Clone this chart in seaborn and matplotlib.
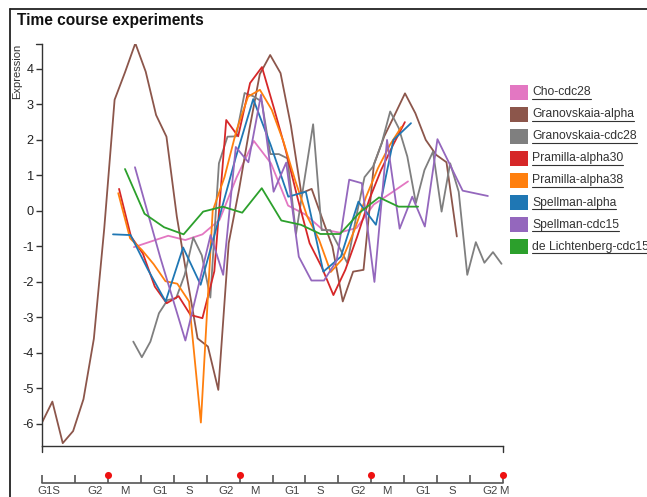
import matplotlib
matplotlib.use("Agg")
import matplotlib.pyplot as plt
from matplotlib.patches import Rectangle
from matplotlib.lines import Line2D
import numpy as np
import pandas as pd
import seaborn as sns

sns.set_theme(style="white")
plt.rcParams["font.family"] = ["Liberation Sans", "DejaVu Sans"]
plt.rcParams["axes.unicode_minus"] = False

# ---- experiments (legend order) and their colours ----
experiments = ["Cho-cdc28", "Granovskaia-alpha", "Granovskaia-cdc28", "Pramilla-alpha30",
               "Pramilla-alpha38", "Spellman-alpha", "Spellman-cdc15", "de Lichtenberg-cdc15"]
colors = ["#e377c2", "#8c564b", "#7f7f7f", "#d62728", "#ff7f0e", "#1f77b4", "#9467bd", "#2ca02c"]

# ---- sampling times (minutes) and expression per experiment ----
cho_cdc28_t = list(range(0, 161, 10))
cho_cdc28_v = [-1.02, -0.86, -0.70, -0.82, -0.66, -0.25, 0.95, 1.97, 1.34, 0.15, -0.10,
               -0.52, -0.61, -0.48, 0.18, 0.50, 0.83]

gran_alpha_t = list(range(0, 201, 5))
gran_alpha_v = [-5.96, -5.37, -6.54, -6.20, -5.30, -3.60, -0.50, 3.13, 3.90, 4.72, 3.92,
                2.70, 2.09, -0.16, -1.90, -3.59, -3.82, -5.04, -0.91, 0.60, 2.30, 3.85,
                4.39, 3.88, 2.40, 0.50, 0.62, -0.20, -1.00, -2.55, -1.71, -1.66, 1.30,
                2.10, 2.70, 3.31, 2.75, 2.00, 1.58, 1.37, -0.72]

gran_cdc28_t = list(range(0, 216, 5))
gran_cdc28_v = [-3.68, -4.12, -3.68, -2.88, -2.51, -2.46, -1.80, -0.75, -1.25, -2.44,
                1.34, 2.09, 2.10, 3.32, 3.23, 3.08, 1.60, 1.60, 1.48, -0.65,
                0.90, 2.44, -0.54, -0.54, -1.00, -1.47, -0.20, 0.95, 1.25, 1.90,
                2.80, 2.33, 1.53, 0.22, 1.15, 1.67, -0.02, 1.34, 0.54, -1.80,
                -0.88, -1.46, -1.16, -1.49]

pramilla30_t = list(range(0, 121, 5))
pramilla30_v = [0.62, -0.72, -1.20, -2.13, -2.60, -2.40, -2.93, -3.02, -1.70, 2.56, 2.10,
                3.60, 4.05, 2.90, 1.70, 0.35, -0.91, -1.57, -2.37, -1.66, -0.72, 0.31,
                1.15, 1.85, 2.50]

pramilla38_t = list(range(0, 121, 5))
pramilla38_v = [0.50, -0.77, -1.10, -1.50, -1.98, -2.05, -2.55, -5.96, 0.00, 0.95, 2.25,
                3.22, 3.41, 2.85, 1.95, 0.85, -0.15, -0.80, -1.72, -1.35, -0.55, 0.40,
                1.20, 1.85, 2.37]

spellman_alpha_t = list(range(0, 120, 7))
spellman_alpha_v = [-0.66, -0.68, -1.66, -2.55, -1.03, -2.08, -0.30, 1.50, 3.15, 1.85,
                    0.40, 0.54, -1.71, -1.29, 0.26, -0.39, 2.00, 2.47]

spellman_cdc15_t = [10, 30, 50, 70, 80, 90, 100, 110, 120, 130, 140, 150, 160, 170, 180,
                    190, 200, 210, 220, 230, 240, 250, 270, 290]
spellman_cdc15_v = [1.23, -1.30, -3.65, -0.68, -1.80, 1.80, 1.37, 3.27, 0.54, 1.36, -1.29,
                    -1.96, -1.96, -1.40, 0.88, 0.78, -2.00, 2.00, -0.50, 0.40, -0.44, 2.02,
                    0.57, 0.42]

lichtenberg_t = list(range(0, 151, 10))
lichtenberg_v = [1.18, -0.08, -0.46, -0.66, -0.02, 0.12, -0.05, 0.64, -0.27, -0.39,
                 -0.65, -0.65, -0.05, 0.38, 0.12, 0.12]

# cell-cycle alignment of each experiment: (phase at t=0 in cycles, period in minutes)
alignment = {
    "Cho-cdc28": (0.698, 76.9),
    "Granovskaia-alpha": (0.0, 63.5),
    "Granovskaia-cdc28": (0.693, 76.9),
    "Pramilla-alpha30": (0.585, 55.3),
    "Pramilla-alpha38": (0.579, 55.8),
    "Spellman-alpha": (0.539, 52.6),
    "Spellman-cdc15": (0.610, 104.5),
    "de Lichtenberg-cdc15": (0.630, 67.4),
}

series = {
    "Cho-cdc28": (cho_cdc28_t, cho_cdc28_v),
    "Granovskaia-alpha": (gran_alpha_t, gran_alpha_v),
    "Granovskaia-cdc28": (gran_cdc28_t, gran_cdc28_v),
    "Pramilla-alpha30": (pramilla30_t, pramilla30_v),
    "Pramilla-alpha38": (pramilla38_t, pramilla38_v),
    "Spellman-alpha": (spellman_alpha_t, spellman_alpha_v),
    "Spellman-cdc15": (spellman_cdc15_t, spellman_cdc15_v),
    "de Lichtenberg-cdc15": (lichtenberg_t, lichtenberg_v),
}

# cell-cycle phase axis
phase_ticks = [i * 0.25 for i in range(15)]
mitosis_marks = [0.5, 1.5, 2.5, 3.5]
phase_labels = ["G1S", "G2", "M", "G1", "S", "G2", "M", "G1", "S", "G2", "M", "G1", "S", "G2", "M"]
phase_label_pos = [0.05, 0.40, 0.625, 0.895, 1.115, 1.398, 1.618, 1.895, 2.115, 2.398,
                   2.62, 2.895, 3.115, 3.398, 3.505]

y_ticks = list(range(-6, 5))

rows = []
for name in experiments:
    t, v = series[name]
    p0, period = alignment[name]
    for ti, vi in zip(t, v):
        rows.append({"phase": p0 + ti / period, "expression": vi, "experiment": name})
df = pd.DataFrame(rows)

W, H = 647, 497
fig = plt.figure(figsize=(W / 100, H / 100), dpi=100)
fig.patch.set_facecolor("white")


def fx(px):
    return px / W


def fy(py):
    return 1 - py / H


ink = "#333333"

# panel frame
fig.add_artist(Line2D([fx(10), fx(10)], [fy(9), fy(H + 5)], color="#222222", lw=1.3))
fig.add_artist(Line2D([fx(10), fx(W + 5)], [fy(9), fy(9)], color="#222222", lw=1.3))

ax = fig.add_axes([fx(42), fy(446), fx(503) - fx(42), fy(44) - fy(446)])
sns.lineplot(data=df, x="phase", y="expression", hue="experiment", hue_order=experiments,
             palette=dict(zip(experiments, colors)), estimator=None, sort=False,
             legend=False, linewidth=1.3, ax=ax)
ax.set_xlim(0, 3.5)
ax.set_ylim(-6.62, 4.70)
ax.set_facecolor("white")
for s in ["top", "right"]:
    ax.spines[s].set_visible(False)
for s in ["left", "bottom"]:
    ax.spines[s].set_color(ink)
    ax.spines[s].set_linewidth(1.0)
ax.set_yticks(y_ticks)
ax.set_yticklabels([str(v) for v in y_ticks])
ax.tick_params(axis="y", direction="out", length=4.3, width=1.0, color=ink,
               labelsize=9.2, labelcolor="#222222", pad=1.5, left=True)
ax.set_xticks([])
ax.set_xlabel("")
ax.set_ylabel("")
# outer end ticks of both axes
ax.plot([-0.013, 0], [1, 1], transform=ax.transAxes, clip_on=False, color=ink, lw=1.0)
ax.plot([0, 0], [0, -0.015], transform=ax.transAxes, clip_on=False, color=ink, lw=1.0)
ax.plot([1, 1], [0, -0.015], transform=ax.transAxes, clip_on=False, color=ink, lw=1.0)

# cell-cycle phase strip
cc = fig.add_axes([fx(42), fy(483), fx(503) - fx(42), fy(475) - fy(483)])
cc.set_xlim(0, 3.5)
cc.set_ylim(0, 1)
cc.axis("off")
cc.axhline(0, color="#555555", lw=1.2, clip_on=False)
cc.vlines(phase_ticks, 0, 1, color="#555555", lw=1.2, clip_on=False)
cc.scatter(mitosis_marks, [1] * len(mitosis_marks), s=26, color="#ee1111", zorder=3,
           clip_on=False, linewidths=0)
for lab, pos in zip(phase_labels, phase_label_pos):
    cc.text(pos, -1.05, lab, ha="center", va="center", fontsize=8.2, color="#444444",
            clip_on=False)

# title and axis name
fig.text(fx(17), fy(21), "Time course experiments", fontsize=11.2, fontweight="bold",
         ha="left", va="center", color="#111111")
fig.text(fx(17), fy(44), "Expression", rotation=90, ha="center", va="top",
         fontsize=8, color="#333333")

# legend with underlined names
legend_texts = []
for i, (name, col) in enumerate(zip(experiments, colors)):
    yc = 92 + 22.1 * i
    fig.add_artist(Rectangle((fx(510), fy(yc + 7.5)), 18 / W, 15 / H,
                             transform=fig.transFigure, facecolor=col, edgecolor="none"))
    legend_texts.append(fig.text(fx(532), fy(yc), name, ha="left", va="center",
                                 fontsize=8.7, color="#333333"))

fig.canvas.draw()
renderer = fig.canvas.get_renderer()
for t in legend_texts:
    bb = t.get_window_extent(renderer)
    yline = (bb.y0 - 0.5) / H
    fig.add_artist(Line2D([bb.x0 / W, bb.x1 / W], [yline, yline], color="#333333", lw=0.8))

fig.savefig("out.png", dpi=100)
